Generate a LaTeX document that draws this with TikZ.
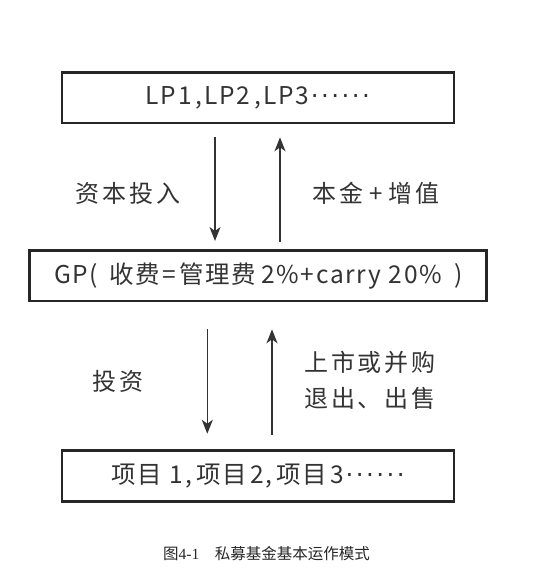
\documentclass[tikz,border=0pt]{standalone}
\usepackage{fontspec}
\setmainfont{Noto Sans CJK SC}
\newfontfamily\capfont{Noto Sans CJK SC}
\newfontfamily\capnum{Liberation Serif}
\newfontfamily\lblfont[LetterSpace=12]{Noto Sans CJK SC}
\newfontfamily\boxfont[LetterSpace=7]{Noto Sans CJK SC}
\newfontfamily\dotfont[LetterSpace=10]{DejaVu Sans}
\usetikzlibrary{arrows.meta}
\begin{document}
\begin{tikzpicture}[x=1pt,y=-1pt,
  box/.style={draw=black!85, line width=2.5pt, inner sep=0pt, text=black!80,
    font=\boxfont\fontsize{24.5}{28}\selectfont},
  flow/.style={draw=black!80, line width=1.3pt, -{Stealth[length=14pt,width=11pt,inset=4pt]}},
  lbl/.style={font=\lblfont\fontsize{24}{35.7}\selectfont, text=black!80, align=center, inner sep=0pt}]
\useasboundingbox (0,0) rectangle (558,578);
\node[box, minimum width=391.8pt, minimum height=50.5pt] (lp) at (257.9,97.8)
  {LP1\hspace{4pt},\hspace{2pt}LP2\hspace{4pt},\hspace{2pt}LP3\hspace{2pt}{\dotfont ······}};
\node[box, minimum width=457pt, minimum height=50.5pt] (gp) at (258.2,275.8)
  {GP(\hspace{11pt}收费\hspace{3pt}=\hspace{3pt}管理费\hspace{5pt}2\%+carry 20\%\hspace{12pt})};
\node[box, minimum width=391.8pt, minimum height=51pt] (pj) at (257.9,476)
  {项目\hspace{8pt}1\hspace{2pt},\hspace{4pt}项目\hspace{4pt}2\hspace{1pt},\hspace{4pt}项目\hspace{3pt}3\hspace{2pt}{\dotfont ······}};
\coordinate (xa) at (215,0);
\coordinate (xb) at (280,0);
\coordinate (xc) at (207.3,0);
\coordinate (xd) at (272,0);
\draw[flow, shorten <=12.7pt, shorten >=8.3pt] (lp.south -| xa) -- (gp.north -| xa);
\draw[flow, shorten <=7.6pt, shorten >=13pt] (gp.north -| xb) -- (lp.south -| xb);
\draw[flow, shorten <=26.7pt, shorten >=15.5pt] (gp.south -| xc) -- (pj.north -| xc);
\draw[flow, shorten <=14.5pt, shorten >=27pt] (pj.north -| xd) -- (gp.south -| xd);
\node[lbl] (l1) at (128,193) {资本投入};
\node[lbl] (l2) at (376,193) {本金\hspace{6pt}+\hspace{6pt}增值};
\node[lbl] (l3) at (117.6,381) {投资};
\node[lbl] (l4) at (370,380) {上市或并购\\退出、出售};
\node[font=\fontsize{15.5}{18}\selectfont, text=black!85, inner sep=0pt] (cap) at (266.5,554) {图\capnum 4-1\capfont\quad 私募基金基本运作模式};
\end{tikzpicture}
\end{document}
